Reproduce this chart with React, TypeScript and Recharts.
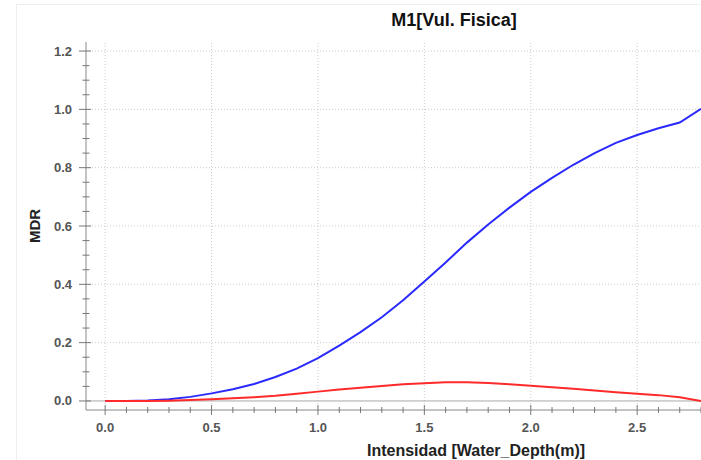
import { LineChart, Line, XAxis, YAxis, ReferenceLine } from 'recharts';

const depth = [0, 0.1, 0.2, 0.3, 0.4, 0.5, 0.6, 0.7, 0.8, 0.9, 1.0, 1.1, 1.2, 1.3, 1.4, 1.5, 1.6, 1.7, 1.8, 1.9, 2.0, 2.1, 2.2, 2.3, 2.4, 2.5, 2.6, 2.7, 2.8];
const mdrBlue = [0, 0, 0.002, 0.006, 0.014, 0.026, 0.04, 0.058, 0.082, 0.111, 0.147, 0.19, 0.236, 0.287, 0.345, 0.41, 0.475, 0.543, 0.605, 0.663, 0.717, 0.765, 0.81, 0.85, 0.885, 0.912, 0.935, 0.955, 1.002];
const mdrRed = [0, 0, 0, 0.001, 0.003, 0.006, 0.009, 0.013, 0.018, 0.025, 0.032, 0.039, 0.045, 0.051, 0.057, 0.061, 0.064, 0.064, 0.062, 0.057, 0.052, 0.047, 0.042, 0.036, 0.03, 0.025, 0.02, 0.013, 0];

const xTicks = depth;
const xMajor = [0, 0.5, 1.0, 1.5, 2.0, 2.5];
const yTicks = [0, 0.05, 0.1, 0.15, 0.2, 0.25, 0.3, 0.35, 0.4, 0.45, 0.5, 0.55, 0.6, 0.65, 0.7, 0.75, 0.8, 0.85, 0.9, 0.95, 1.0, 1.05, 1.1, 1.15, 1.2];
const yMajor = [0, 0.2, 0.4, 0.6, 0.8, 1.0, 1.2];

const data = depth.map((d, i) => ({ depth: d, blue: mdrBlue[i], red: mdrRed[i] }));

const FONT = '"Liberation Sans", Arial, sans-serif';
const isMajor = (v: number, list: number[]) => list.some((m) => Math.abs(m - v) < 1e-6);

const BottomTick = (props: any) => {
  const { x, y, payload } = props;
  const major = isMajor(payload.value, xMajor);
  const len = major ? 5 : 3;
  return (
    <g>
      <line x1={x} x2={x} y1={y - len} y2={y + len} stroke="#777" />
      {major && (
        <text x={x} y={y + 22} textAnchor="middle" fontSize={13} fontWeight="bold" fill="#555" fontFamily={FONT}>
          {payload.value.toFixed(1)}
        </text>
      )}
    </g>
  );
};

const TopTick = (props: any) => {
  const { x, y, payload } = props;
  const major = isMajor(payload.value, xMajor);
  return <line x1={x} x2={x} y1={y} y2={y + (major ? 6 : 4)} stroke="#888" />;
};

const LeftTick = (props: any) => {
  const { x, y, payload } = props;
  const major = isMajor(payload.value, yMajor);
  return (
    <g>
      <line x1={major ? x - 7 : x - 3.5} x2={major ? x + 5 : x + 3.5} y1={y} y2={y} stroke="#777" />
      {major && (
        <text x={x - 14} y={y + 4.5} textAnchor="end" fontSize={13} fontWeight="bold" fill="#555" fontFamily={FONT}>
          {payload.value.toFixed(1)}
        </text>
      )}
    </g>
  );
};

export default function App() {
  return (
    <div style={{ position: 'absolute', left: 0, top: 0, width: 701, height: 460, background: '#fff', overflow: 'hidden' }}>
      <div style={{ position: 'absolute', left: 16, top: 4, right: 0, bottom: 0, borderLeft: '1px solid #eee', borderTop: '1px solid #eee' }} />
      <div
        style={{
          position: 'absolute',
          left: 454,
          top: 11,
          transform: 'translateX(-50%)',
          whiteSpace: 'nowrap',
          fontFamily: FONT,
          fontWeight: 'bold',
          fontSize: 18,
          lineHeight: '18px',
          color: '#111',
        }}
      >
        M1[Vul. Fisica]
      </div>
      <LineChart width={701} height={460} data={data} margin={{ top: 42, right: 0, bottom: 20, left: 0 }} style={{ position: 'absolute', left: 0, top: 0 }}>
        {xMajor.map((v) => (
          <ReferenceLine key={'vx' + v} x={v} xAxisId="bottom" stroke="#ccc" strokeDasharray="1 2" />
        ))}
        {yMajor.filter((v) => v > 0).map((v) => (
          <ReferenceLine key={'hy' + v} y={v} xAxisId="bottom" stroke="#ccc" strokeDasharray="1 2" />
        ))}
        <ReferenceLine y={0} xAxisId="bottom" stroke="#aaa" />
        <XAxis
          xAxisId="bottom"
          dataKey="depth"
          type="number"
          domain={[-0.09, 2.8]}
          allowDataOverflow
          ticks={xTicks}
          interval={0}
          height={30}
          tickSize={0}
          tickMargin={0}
          tickLine={false}
          axisLine={{ stroke: '#888' }}
          tick={BottomTick}
          label={{
            content: () => (
              <text x={476} y={456} textAnchor="middle" fontSize={16} fontWeight="bold" fill="#222" fontFamily={FONT}>
                Intensidad [Water_Depth(m)]
              </text>
            ),
          }}
        />
        <XAxis
          xAxisId="top"
          orientation="top"
          dataKey="depth"
          type="number"
          domain={[-0.09, 2.8]}
          allowDataOverflow
          ticks={xTicks}
          interval={0}
          height={0}
          tickSize={0}
          tickMargin={0}
          tickLine={false}
          axisLine={{ stroke: '#999' }}
          tick={TopTick}
        />
        <YAxis
          type="number"
          domain={[-0.031, 1.231]}
          allowDataOverflow
          ticks={yTicks}
          interval={0}
          width={86}
          tickSize={0}
          tickMargin={0}
          tickLine={false}
          axisLine={{ stroke: '#888' }}
          tick={LeftTick}
          label={{
            content: (p: any) => {
              const cy = p.viewBox.y + p.viewBox.height / 2;
              return (
                <text x={34} y={cy} transform={`rotate(-90 34 ${cy})`} textAnchor="middle" dominantBaseline="central" fontSize={15} fontWeight="bold" fill="#222" fontFamily={FONT}>
                  MDR
                </text>
              );
            },
          }}
        />
        <Line xAxisId="bottom" type="linear" dataKey="blue" stroke="#2a2aff" strokeWidth={2} dot={false} isAnimationActive={false} />
        <Line xAxisId="bottom" type="linear" dataKey="red" stroke="#ff2a2a" strokeWidth={2} dot={false} isAnimationActive={false} />
      </LineChart>
    </div>
  );
}
